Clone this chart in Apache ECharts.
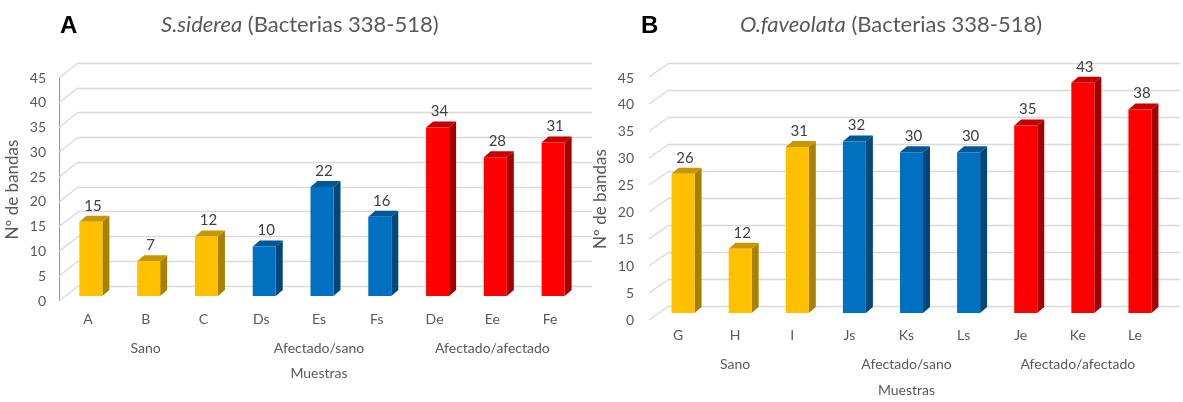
<!DOCTYPE html>
<html>
<head>
<meta charset="utf-8">
<script src="https://cdn.jsdelivr.net/npm/echarts@6/dist/echarts.min.js"></script>
<style>
  html, body { margin: 0; padding: 0; background: #fff; }
  #chart { width: 1183px; height: 402px; }
</style>
</head>
<body>
<div id="chart"></div>
<script>
// Samples and band counts, panel A (S. siderea)
const categoriesA = ['A', 'B', 'C', 'Ds', 'Es', 'Fs', 'De', 'Ee', 'Fe'];
const bandsA = [15, 7, 12, 10, 22, 16, 34, 28, 31];
// Samples and band counts, panel B (O. faveolata)
const categoriesB = ['G', 'H', 'I', 'Js', 'Ks', 'Ls', 'Je', 'Ke', 'Le'];
const bandsB = [26, 12, 31, 32, 30, 30, 35, 43, 38];
// Sample condition groups (three samples each)
const groups = ['Sano', 'Afectado/sano', 'Afectado/afectado'];
const groupOfSample = [0, 0, 0, 1, 1, 1, 2, 2, 2];
// Value axis ticks
const yTicks = [0, 5, 10, 15, 20, 25, 30, 35, 40, 45];

const FONT = 'Lato, "Open Sans", sans-serif';
const TEXT = '#595959';
const GRID_LINE = '#d9d9d9';

// front / side / top shades for each group
const shades = [
  { front: '#FFC000', side: '#A98000', top: '#C79700' },
  { front: '#0070C0', side: '#00477A', top: '#005796' },
  { front: '#FF0000', side: '#A30000', top: '#C40000' }
];

const DEPTH_X = 7, DEPTH_Y = 6, BAR_W = 23;

function barRenderer(shift) {
  return function (params, api) {
    const i = api.value(0), v = api.value(1), g = api.value(2);
    const base = api.coord([i, 0]);
    const top = api.coord([i, v]);
    const cx = base[0] + shift;
    const x0 = cx - BAR_W / 2, x1 = cx + BAR_W / 2;
    const yT = top[1], yB = base[1];
    const c = shades[g];
    return {
      type: 'group',
      children: [
        { type: 'polygon', shape: { points: [[x1, yT], [x1 + DEPTH_X, yT - DEPTH_Y], [x1 + DEPTH_X, yB - DEPTH_Y], [x1, yB]] },
          style: { fill: c.side } },
        { type: 'polygon', shape: { points: [[x0, yT], [x1, yT], [x1 + DEPTH_X, yT - DEPTH_Y], [x0 + DEPTH_X, yT - DEPTH_Y]] },
          style: { fill: c.top } },
        { type: 'rect', shape: { x: x0, y: yT, width: BAR_W, height: yB - yT },
          style: { fill: c.front } },
        { type: 'text', x: cx + 2, y: yT - 16,
          style: { text: String(v), fill: '#404040', font: '15px ' + FONT, align: 'center', verticalAlign: 'middle' } }
      ]
    };
  };
}

// side-wall gridlines joining the front axis to the back wall
function wallRenderer(dx, dy) {
  return function (params, api) {
    const p = api.coord([0, api.value(0)]);
    return { type: 'line', shape: { x1: p[0] - dx, y1: p[1] + dy, x2: p[0], y2: p[1] },
             style: { stroke: GRID_LINE, lineWidth: 1.3 } };
  };
}

function panel(cfg) {
  const g0 = cfg.gridBase;
  const grids = [
    { left: cfg.back.left, top: cfg.back.top, width: cfg.back.width, height: cfg.back.height },
    { left: cfg.front.left, top: cfg.front.top, width: cfg.bars.width, height: cfg.front.height },
    { left: cfg.bars.left, top: cfg.bars.top, width: cfg.bars.width, height: cfg.bars.height }
  ];
  const xAxes = [
    { gridIndex: g0, type: 'value', min: 0, max: 1, show: false },
    { gridIndex: g0 + 1, type: 'value', min: 0, max: 1, show: false },
    { gridIndex: g0 + 2, type: 'category', data: cfg.categories,
      axisLine: { show: false }, axisTick: { show: false },
      axisLabel: { color: TEXT, fontSize: 14, fontFamily: FONT, margin: cfg.catMargin } },
    { gridIndex: g0 + 2, type: 'category', data: groups, position: 'bottom', offset: 29,
      axisLine: { show: false }, axisTick: { show: false },
      axisLabel: { color: TEXT, fontSize: 14, fontFamily: FONT, margin: cfg.catMargin },
      name: 'Muestras', nameLocation: 'middle', nameGap: cfg.nameGapX,
      nameTextStyle: { color: TEXT, fontSize: 14, fontFamily: FONT } }
  ];
  const yAxes = [
    { gridIndex: g0, type: 'value', min: 0, max: 45, interval: 5,
      axisLine: { show: false }, axisTick: { show: false }, axisLabel: { show: false },
      splitLine: { lineStyle: { color: GRID_LINE, width: 1.3 } } },
    { gridIndex: g0 + 1, type: 'value', min: 0, max: 45, interval: 5,
      axisLine: { show: cfg.showAxisLine, lineStyle: { color: '#6d9ed6', width: 1 } },
      axisTick: { show: false }, splitLine: { show: false },
      axisLabel: { color: TEXT, fontSize: 14, fontFamily: FONT, margin: cfg.yMargin },
      name: 'Nº de bandas', nameLocation: 'middle', nameGap: cfg.nameGapY, nameRotate: 90,
      nameTextStyle: { color: TEXT, fontSize: 17, fontFamily: FONT } },
    { gridIndex: g0 + 2, type: 'value', min: 0, max: 45, interval: 5, show: false, splitLine: { show: false } }
  ];
  const series = [
    { type: 'custom', xAxisIndex: cfg.axisBase, yAxisIndex: cfg.axisBase,
      renderItem: wallRenderer(cfg.wallDx, cfg.wallDy), data: yTicks.map(t => [t]), silent: true },
    { type: 'custom', xAxisIndex: cfg.axisBase + 2, yAxisIndex: cfg.axisBase + 2,
      renderItem: barRenderer(cfg.barShift),
      data: cfg.values.map((v, i) => [i, v, groupOfSample[i]]), silent: true }
  ];
  return { grids, xAxes, yAxes, series };
}

const pA = panel({
  gridBase: 0, axisBase: 0, categories: categoriesA, values: bandsA,
  back: { left: 78, top: 63, width: 514, height: 223 },
  front: { left: 59, top: 78, height: 223 },
  bars: { left: 59, top: 73, width: 520, height: 223 },
  catMargin: 16, nameGapX: 41, yMargin: 13, nameGapY: 38,
  wallDx: 19, wallDy: 15, barShift: 3, showAxisLine: true
});
const pB = panel({
  gridBase: 3, axisBase: 4, categories: categoriesB, values: bandsB,
  back: { left: 669, top: 63, width: 511, height: 243 },
  front: { left: 650, top: 78, height: 242 },
  bars: { left: 649.5, top: 72, width: 514, height: 244 },
  catMargin: 15, nameGapX: 41, yMargin: 16, nameGapY: 41,
  wallDx: 20, wallDy: 14, barShift: 5, showAxisLine: false
});
// yAxis indices of panel B start after panel A's three
pB.series.forEach(s => { s.yAxisIndex = s.yAxisIndex - 1; });

const chart = echarts.init(document.getElementById('chart'), null, { renderer: 'canvas' });
chart.setOption({
  backgroundColor: '#ffffff',
  animation: false,
  title: [
    { text: 'A', left: 55, top: 9, textStyle: { fontSize: 24, fontWeight: 'bold', color: '#000', fontFamily: 'Liberation Sans, Arial, sans-serif' } },
    { text: '{i|S.siderea} (Bacterias 338-518)', left: 156, top: 9,
      textStyle: { fontSize: 22, color: TEXT, fontWeight: 'normal', fontFamily: FONT,
        rich: { i: { fontStyle: 'italic', fontSize: 22, color: TEXT, fontFamily: FONT } } } },
    { text: 'B', left: 636, top: 9, textStyle: { fontSize: 24, fontWeight: 'bold', color: '#000', fontFamily: 'Liberation Sans, Arial, sans-serif' } },
    { text: '{i|O.faveolata} (Bacterias 338-518)', left: 735, top: 9,
      textStyle: { fontSize: 22, color: TEXT, fontWeight: 'normal', fontFamily: FONT,
        rich: { i: { fontStyle: 'italic', fontSize: 22, color: TEXT, fontFamily: FONT } } } }
  ],
  grid: pA.grids.concat(pB.grids),
  xAxis: pA.xAxes.concat(pB.xAxes),
  yAxis: pA.yAxes.concat(pB.yAxes),
  series: pA.series.concat(pB.series)
});
</script>
</body>
</html>
